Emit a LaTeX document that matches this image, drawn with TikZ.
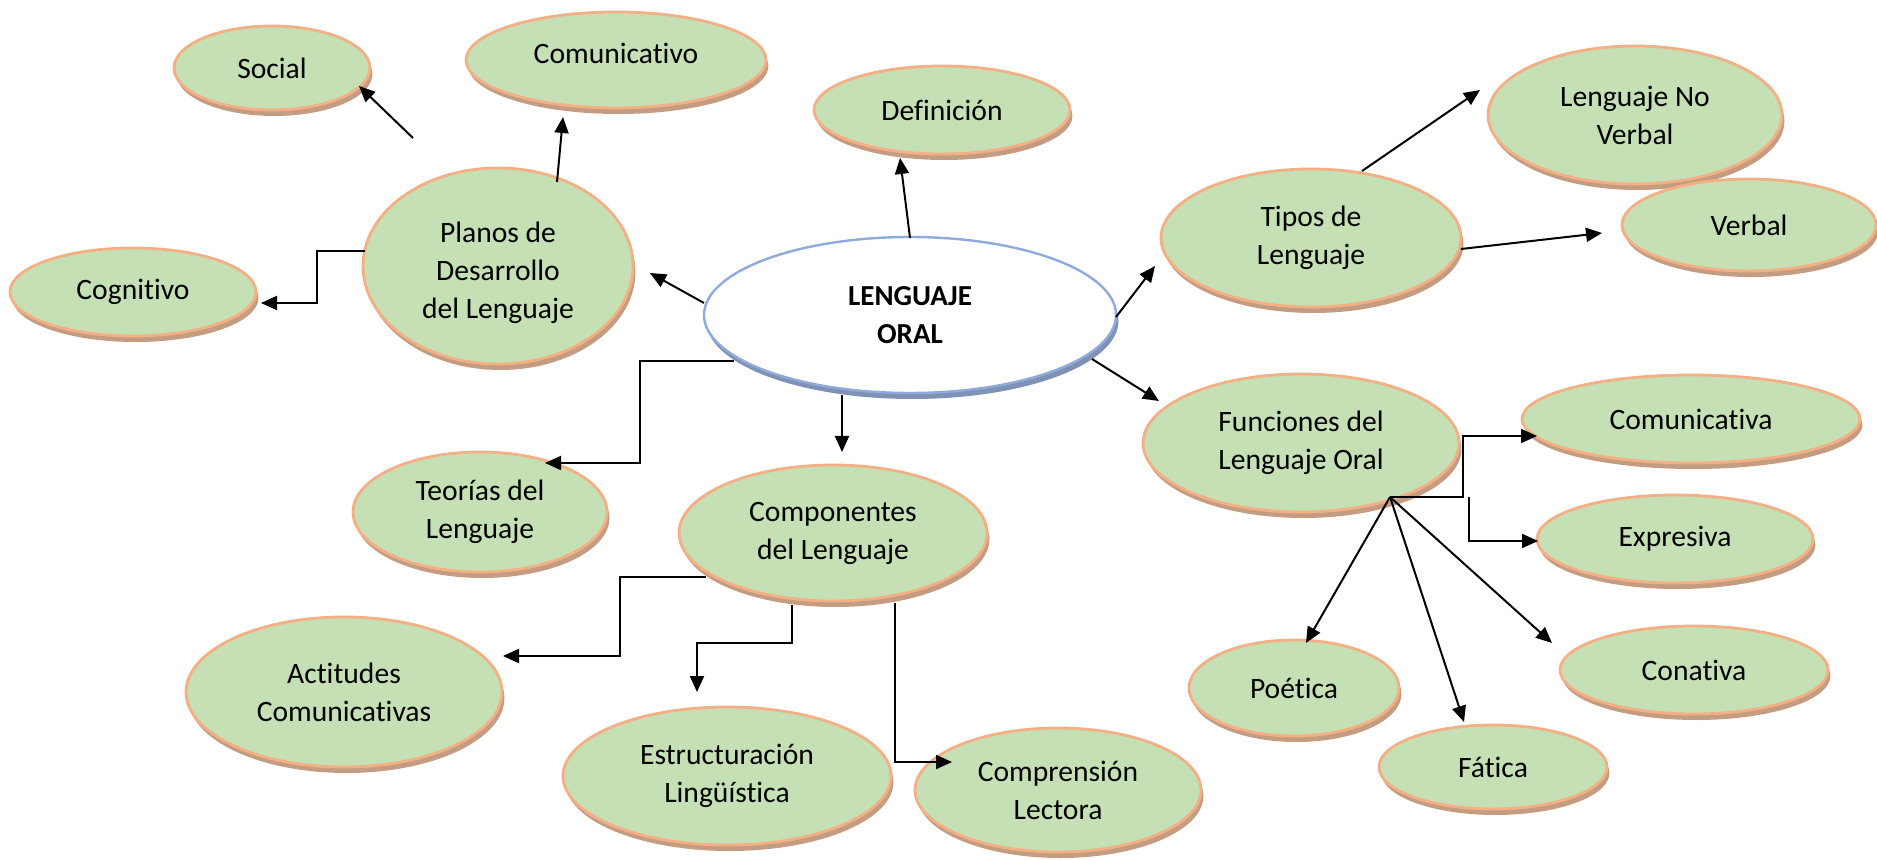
\documentclass[tikz,border=0pt]{standalone}
\usepackage{fontspec}
\setmainfont{Carlito}[Ligatures=NoCommon]
\usetikzlibrary{shapes.geometric,shadows,arrows.meta}
\definecolor{bfill}{RGB}{197,224,180}
\definecolor{bedge}{RGB}{244,176,132}
\definecolor{bshadow}{RGB}{196,156,130}
\definecolor{cedge}{RGB}{143,170,220}
\definecolor{cshadow}{RGB}{128,146,180}
\begin{document}
\begin{tikzpicture}[x=0.5pt,y=-0.5pt,
  txt/.style={align=center, font=\fontsize{14.8}{19}\selectfont},
  bub/.style={ellipse, draw=bedge, fill=bfill, line width=1.4pt, inner sep=0pt, txt,
    drop shadow={shadow xshift=1.2pt, shadow yshift=-3pt, fill=bshadow, opacity=1}},
  cbub/.style={ellipse, draw=cedge, fill=white, line width=1.2pt, inner sep=0pt,
    align=center, font=\fontsize{14.5}{19}\selectfont\bfseries,
    drop shadow={shadow xshift=1.2pt, shadow yshift=-3pt, fill=cshadow, opacity=1}},
  sz/.style 2 args={minimum width=#1pt, minimum height=#2pt},
  arr/.style={line width=1pt, -{Triangle[length=8pt,width=7pt]}},
  ln/.style={line width=1pt}]
\useasboundingbox (0,0) rectangle (1877,860);

% nodes
\node[cbub, sz={206}{78}] (cent) at (910,315) {LENGUAJE\\ORAL};
\node[bub, sz={98}{42}] (social) at (272,68) {Social};
\node[bub, sz={150}{48}, label={[txt, yshift=3.5pt]center:Comunicativo}] (comm) at (616,60) {};
\node[bub, sz={128}{44}] (def) at (942,110) {Definición};
\node[bub, sz={147}{69}] (lnv) at (1635,115) {Lenguaje No\\Verbal};
\node[bub, sz={127}{46}] (verbal) at (1749,225) {Verbal};
\node[bub, sz={150}{69}] (tipos) at (1311,238) {Tipos de\\Lenguaje};
\node[bub, sz={135}{98}, label={[txt, yshift=-3.5pt]center:{Planos de\\Desarrollo\\del Lenguaje}}] (planos) at (498,266) {};
\node[bub, sz={123}{44}] (cog) at (133,292) {Cognitivo};
\node[bub, sz={158}{69}] (func) at (1301,443) {Funciones del\\Lenguaje Oral};
\node[bub, sz={169}{44}] (comva) at (1691,419) {Comunicativa};
\node[bub, sz={138}{44}] (expr) at (1675,539) {Expresiva};
\node[bub, sz={134}{44}] (conat) at (1694,670) {Conativa};
\node[bub, sz={114}{42}] (fatica) at (1493,767) {Fática};
\node[bub, sz={105}{48}] (poet) at (1294,688) {Poética};
\node[bub, sz={127}{60}] (teor) at (480,512) {Teorías del\\Lenguaje};
\node[bub, sz={154}{68}] (comp) at (833,533) {Componentes\\del Lenguaje};
\node[bub, sz={158}{75}] (actit) at (344,692) {Actitudes\\Comunicativas};
\node[bub, sz={164}{69}] (estr) at (727,776) {Estructuración\\Lingüística};
\node[bub, sz={143}{62}] (compr) at (1058,790) {Comprensión\\Lectora};

% connectors
\coordinate (s0) at (413,138);
\draw[arr] (s0) -- ([shift={(87,18)}]social.center);
\draw[arr] ([shift={(59,-84)}]planos.center) -- ([shift={(-53,57)}]comm.center);
\draw[arr] ([shift={(0,-77)}]cent.center) -- ([shift={(-42,48)}]def.center);
\draw[arr] ([shift={(-206,-12)}]cent.center) -- ([shift={(152,7)}]planos.center);
\draw[arr] ([shift={(-133,-15)}]planos.center) -- ++(-48,0) -- ++(0,52) -- ([shift={(128,11)}]cog.center);
\draw[arr] ([shift={(206,2)}]cent.center) -- ([shift={(-156,28)}]tipos.center);
\draw[arr] ([shift={(51,-67)}]tipos.center) -- ([shift={(-155,-25)}]lnv.center);
\draw[arr] ([shift={(150,11)}]tipos.center) -- ([shift={(-147,8)}]verbal.center);
\draw[arr] ([shift={(182,44)}]cent.center) -- ([shift={(-142,-42)}]func.center);

\coordinate (hub) at ([shift={(89,54)}]func.center);
\draw[arr] (hub) -- ++(73,0) -- ++(0,-61) -- ([shift={(-154,17)}]comva.center);
\draw[arr] ([shift={(79,0)}]hub) -- ++(0,44) -- ([shift={(-137,2)}]expr.center);
\draw[arr] (hub) -- ([shift={(-142,-27)}]conat.center);
\draw[arr] (hub) -- ([shift={(-29,-45)}]fatica.center);
\draw[arr] (hub) -- ([shift={(12,-45)}]poet.center);

\draw[arr] ([shift={(-176,46)}]cent.center) -- ++(-94,0) -- ++(0,102) -- ([shift={(65,-49)}]teor.center);
\draw[arr] ([shift={(-68,80)}]cent.center) -- ([shift={(9,-81)}]comp.center);
\draw[arr] ([shift={(-127,44)}]comp.center) -- ++(-86,0) -- ++(0,79) -- ([shift={(159,-36)}]actit.center);
\draw[arr] ([shift={(-41,72)}]comp.center) -- ++(0,38) -- ++(-95,0) -- ([shift={(-30,-84)}]estr.center);
\draw[arr] ([shift={(62,70)}]comp.center) -- ++(0,159) -- ([shift={(-106,-28)}]compr.center);
\end{tikzpicture}
\end{document}
